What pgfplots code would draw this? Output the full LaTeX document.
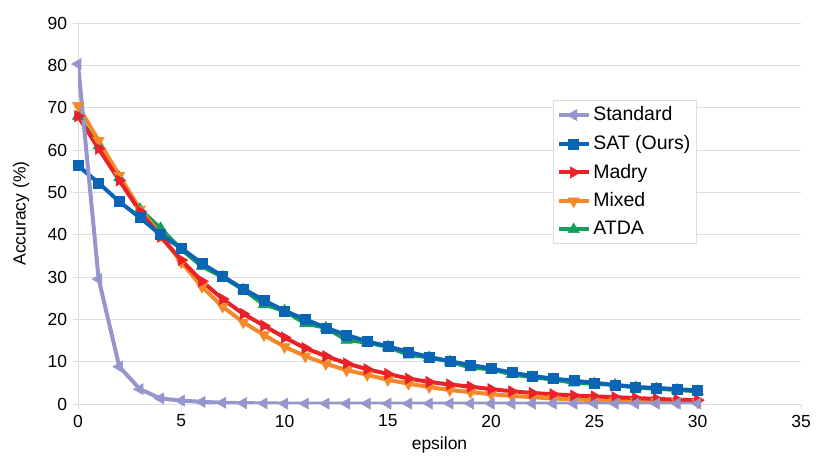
\documentclass[border=0pt]{standalone}
\usepackage{pgfplots}
\pgfplotsset{compat=1.18}
\usepackage{fontspec}
\setmainfont{Liberation Sans}
\definecolor{cStd}{HTML}{9696CC}
\definecolor{cSAT}{HTML}{0B64B4}
\definecolor{cMadry}{HTML}{EA2228}
\definecolor{cMixed}{HTML}{F5892A}
\definecolor{cATDA}{HTML}{12A05C}
\definecolor{gridc}{HTML}{DDDDDD}
\begin{document}
\fontsize{17pt}{20pt}\selectfont
\begin{tikzpicture}
\begin{axis}[
  scale only axis,
  width=723pt, height=381pt,
  xmin=0, xmax=35, ymin=0, ymax=90,
  xtick={0,5,...,35}, ytick={0,10,...,90},
  axis x line*=bottom, axis y line*=left,
  axis line style={gridc, line width=0.8pt},
  every tick/.style={gridc, line width=0.8pt},
  tick align=outside, major tick length=5pt,
  ymajorgrids, grid style={gridc, line width=0.8pt},
  tick label style={font=\fontsize{17.5pt}{20pt}\selectfont},
  /pgf/number format/assume math mode=true,
  label style={font=\fontsize{17.5pt}{20pt}\selectfont},
  xlabel={epsilon}, ylabel={Accuracy (\%)},
  xlabel style={yshift=2pt},
  ylabel style={yshift=7pt},
  every axis plot/.append style={line width=4pt},
  reverse legend,
  legend style={at={(rel axis cs:0.657,0.797)}, anchor=north west,
    draw=gridc, line width=0.8pt, font=\fontsize{19.5pt}{22pt}\selectfont,
    row sep=8pt, inner xsep=4pt, inner ysep=4pt},
  legend cell align=left,
  legend image code/.code={
    \draw[#1, mark repeat=2, mark phase=2] plot coordinates {(0cm,0cm) (0.5cm,0cm) (1.05cm,0cm)};},
]
\addplot[cATDA, mark=triangle*, mark size=6.5pt, mark options={solid, line width=0.5pt}] coordinates {
(0,68) (1,61) (2,53.5) (3,46) (4,41.5) (5,36.5) (6,32.5) (7,30) (8,27) (9,23.5)
(10,22) (11,19) (12,18) (13,15.1) (14,14.5) (15,13.5) (16,11.6) (17,11) (18,10) (19,8.6)
(20,8.2) (21,7) (22,6.3) (23,5.8) (24,5) (25,4.8) (26,4.5) (27,3.9) (28,3.6) (29,3.3) (30,3.0)};
\addlegendentry{ATDA}
\addplot[cMixed, mark=triangle*, mark size=6.5pt, mark options={solid, line width=0.5pt, rotate=180}] coordinates {
(0,70.5) (1,62.2) (2,54) (3,46) (4,40) (5,33.5) (6,27.7) (7,23) (8,19.3) (9,16.3)
(10,13.5) (11,11.3) (12,9.5) (13,8.0) (14,6.9) (15,5.7) (16,4.8) (17,4.0) (18,3.3) (19,2.8)
(20,2.3) (21,1.9) (22,1.6) (23,1.3) (24,1.1) (25,0.9) (26,0.8) (27,0.7) (28,0.6) (29,0.5) (30,0.4)};
\addlegendentry{Mixed}
\addplot[cMadry, mark=triangle*, mark size=6.5pt, mark options={solid, line width=0.5pt, rotate=-90}] coordinates {
(0,68) (1,60.3) (2,52.8) (3,45.5) (4,39.5) (5,34) (6,29) (7,24.8) (8,21.3) (9,18.5)
(10,15.7) (11,13.2) (12,11.3) (13,9.6) (14,8.2) (15,7.1) (16,6) (17,5.2) (18,4.6) (19,4.1)
(20,3.5) (21,3.0) (22,2.6) (23,2.3) (24,2.0) (25,1.8) (26,1.6) (27,1.4) (28,1.2) (29,1.0) (30,0.9)};
\addlegendentry{Madry}
\addplot[cSAT, mark=square*, mark size=5pt, mark options={solid, line width=0.5pt}] coordinates {
(0,56.3) (1,52.2) (2,47.8) (3,44) (4,40) (5,36.8) (6,33.2) (7,30.2) (8,27.2) (9,24.5)
(10,22) (11,20) (12,18) (13,16.3) (14,14.8) (15,13.6) (16,12.3) (17,11.1) (18,10.1) (19,9.2)
(20,8.4) (21,7.4) (22,6.6) (23,6.0) (24,5.5) (25,5.0) (26,4.5) (27,4.0) (28,3.8) (29,3.5) (30,3.2)};
\addlegendentry{SAT (Ours)}
\addplot[cStd, mark=triangle*, mark size=6.5pt, mark options={solid, line width=0.5pt, rotate=90}] coordinates {
(0,80.3) (1,29.5) (2,8.8) (3,3.5) (4,1.3) (5,0.8) (6,0.5) (7,0.3) (8,0.2) (9,0.15)
(10,0.1) (11,0.1) (12,0.1) (13,0.1) (14,0.1) (15,0.1) (16,0.1) (17,0.1) (18,0.1) (19,0.1)
(20,0.1) (21,0.1) (22,0.1) (23,0.1) (24,0.1) (25,0.1) (26,0.1) (27,0.1) (28,0.1) (29,0.1) (30,0.1)};
\addlegendentry{Standard}
\end{axis}
\pgfresetboundingbox
\path (current axis.south west) ++(-78pt,-64pt) coordinate (bbA);
\path (current axis.north east) ++(29pt,23pt) coordinate (bbB);
\path[use as bounding box] (bbA) rectangle (bbB);
\end{tikzpicture}
\end{document}
